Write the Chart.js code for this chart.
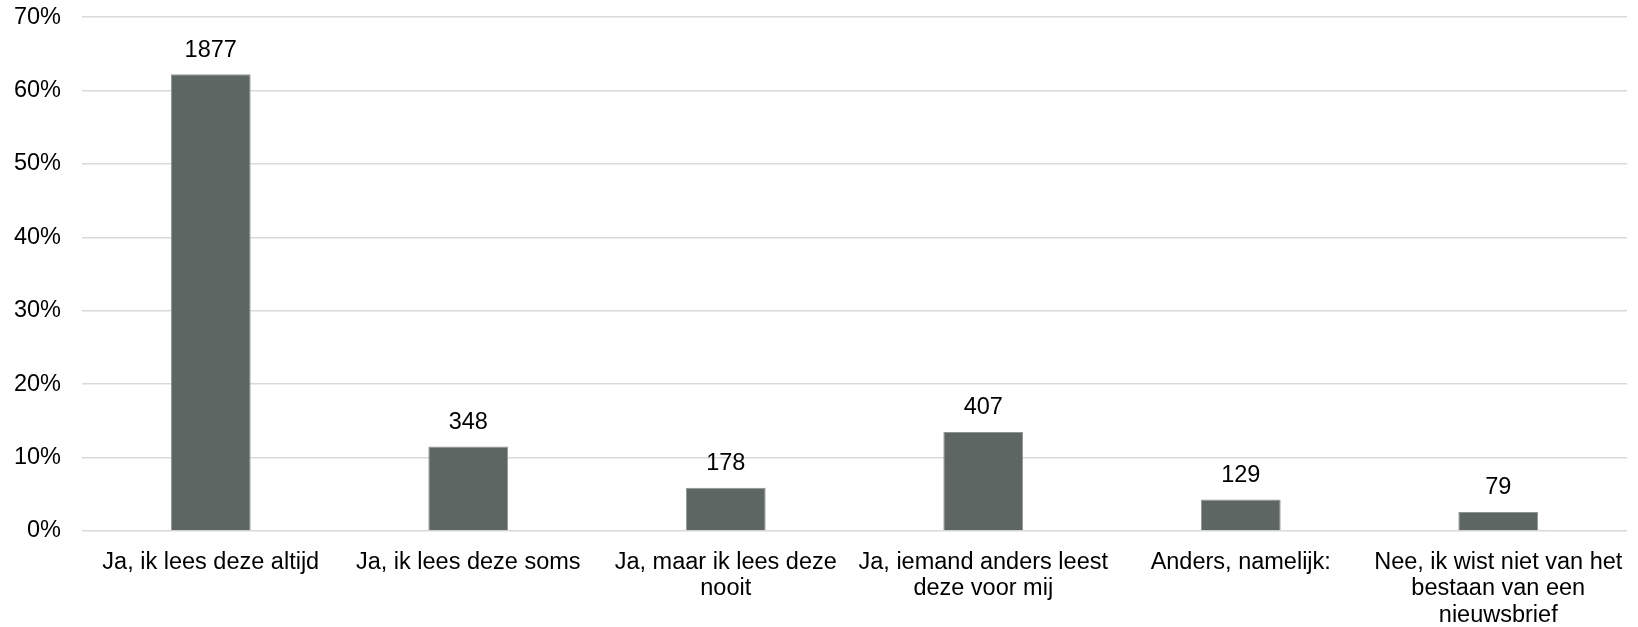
<!DOCTYPE html>
<html>
<head>
<meta charset="utf-8">
<script src="https://cdn.jsdelivr.net/npm/chart.js@4/dist/chart.umd.min.js"></script>
<style>
  html, body { margin: 0; padding: 0; background: #fff; }
  #wrap { width: 1638px; height: 627px; }
</style>
</head>
<body>
<div id="wrap"><canvas id="nieuwsbriefChart" width="1638" height="627"></canvas></div>
<script>
// --- DATA ---
const categories = [
    'Ja, ik lees deze altijd',
    'Ja, ik lees deze soms',
    ['Ja, maar ik lees deze', 'nooit'],
    ['Ja, iemand anders leest', 'deze voor mij'],
    'Anders, namelijk:',
    ['Nee, ik wist niet van het', 'bestaan van een', 'nieuwsbrief']
];
const percentages = [62.2, 11.5, 5.9, 13.5, 4.3, 2.6];
const counts = [1877, 348, 178, 407, 129, 79];
const yTicks = [0, 10, 20, 30, 40, 50, 60, 70];

const FONT = 'Liberation Sans, Arial, sans-serif';
const FONT_SIZE = 23.5;

// draws the counts above each bar
const countLabels = {
    id: 'countLabels',
    afterDatasetsDraw(chart) {
        const ctx = chart.ctx;
        const meta = chart.getDatasetMeta(0);
        ctx.save();
        ctx.font = FONT_SIZE + 'px ' + FONT;
        ctx.fillStyle = '#000';
        ctx.textAlign = 'center';
        ctx.textBaseline = 'middle';
        meta.data.forEach((bar, i) => {
            ctx.fillText(String(counts[i]), bar.x, bar.y - 24);
        });
        ctx.restore();
    }
};

const ctx = document.getElementById('nieuwsbriefChart').getContext('2d');
new Chart(ctx, {
    type: 'bar',
    data: {
        labels: categories,
        datasets: [{
            data: percentages,
            backgroundColor: '#5e6663',
            borderColor: '#8f9593',
            borderWidth: 1,
            categoryPercentage: 1,
            barPercentage: 0.31
        }]
    },
    options: {
        responsive: false,
        animation: false,
        layout: { padding: { top: 0, right: 11, left: 0, bottom: 0 } },
        plugins: {
            legend: { display: false },
            tooltip: { enabled: false }
        },
        scales: {
            x: {
                // invisible tick marks give the label gap without adding side padding
                grid: { display: false, drawTicks: true, tickLength: 18 },
                border: { display: false },
                ticks: {
                    color: '#000',
                    font: { family: FONT, size: FONT_SIZE, lineHeight: 1.13 },
                    padding: 0,
                    maxRotation: 0,
                    autoSkip: false
                },
                afterFit(scale) { scale.height = 96; }
            },
            y: {
                min: 0,
                max: 70,
                afterBuildTicks(scale) {
                    scale.ticks = yTicks.map(v => ({ value: v }));
                },
                grid: { color: '#d9d9d9', lineWidth: 1.5, tickColor: 'transparent', tickLength: 18 },
                border: { display: false },
                ticks: {
                    color: '#000',
                    font: { family: FONT, size: FONT_SIZE },
                    padding: 3,
                    callback: v => v + '%'
                },
                afterFit(scale) { scale.width = 82; }
            }
        }
    },
    plugins: [countLabels]
});
</script>
</body>
</html>
